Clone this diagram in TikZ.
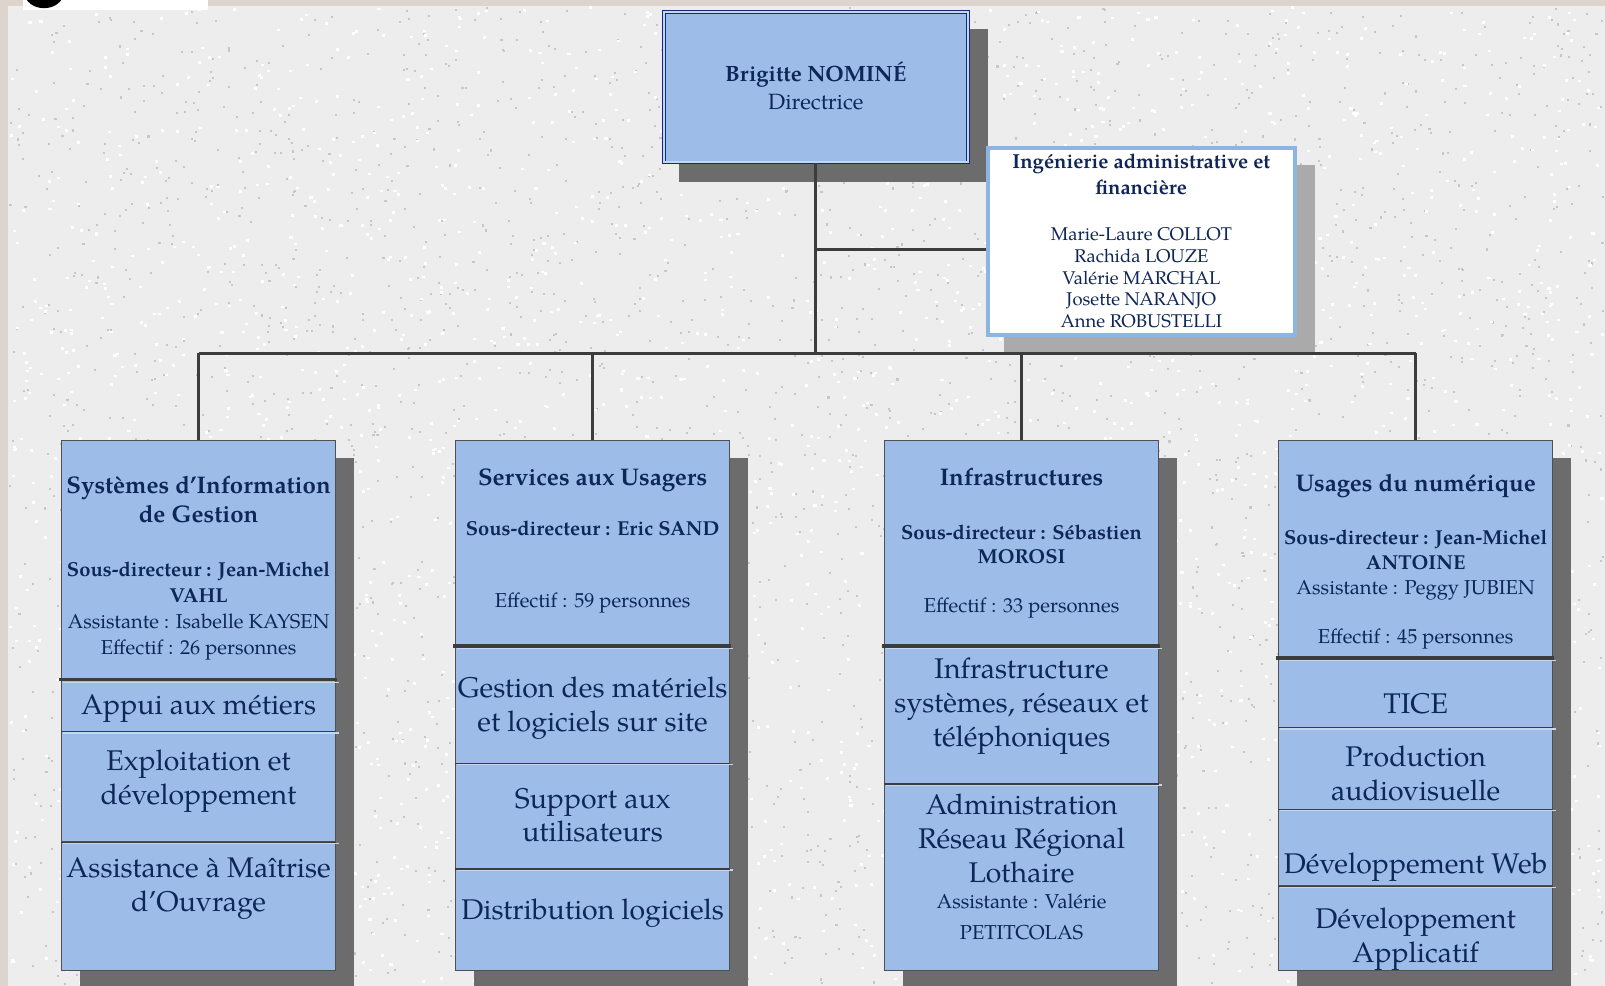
\documentclass[tikz,border=0pt]{standalone}
\usepackage{fontspec}
\setmainfont{texgyrepagella}[Extension=.otf, UprightFont=*-regular, BoldFont=*-bold, ItalicFont=*-italic, BoldItalicFont=*-bolditalic]
\definecolor{pagebeige}{RGB}{222,212,206}
\definecolor{granite}{RGB}{237,237,237}
\definecolor{speck}{RGB}{198,198,198}
\definecolor{boxblue}{RGB}{157,189,232}
\definecolor{navyt}{RGB}{14,38,88}
\definecolor{navyb}{RGB}{20,40,130}
\definecolor{linegray}{RGB}{60,60,60}
\definecolor{shadowgray}{RGB}{108,108,108}
\definecolor{lightshadow}{RGB}{170,170,170}
\definecolor{ingborder}{RGB}{142,180,228}
\definecolor{seclight}{RGB}{200,214,236}
\newcommand\ftitle{\fontsize{23.5}{28}\selectfont\bfseries}
\newcommand\fsub{\fontsize{19.7}{25}\selectfont\bfseries}
\newcommand\freg{\fontsize{19.7}{25}\selectfont}
\newcommand\fitem{\fontsize{27.8}{33}\selectfont}
\tikzset{
  sec/.style={draw=linegray!90, line width=0.9pt, fill=boxblue, minimum width=268pt, inner sep=0pt, anchor=north},
  txt/.style={text=navyt, align=center, inner sep=0pt},
  conn/.style={draw=linegray, line width=2.8pt},
  thicksep/.style={draw=linegray, line width=3.6pt},
  thinsep/.style={draw=linegray, line width=1.3pt},
  lightsep/.style={draw=seclight, line width=1.4pt},
  colshadow/.style={fill=shadowgray}
}
\begin{document}
\begin{tikzpicture}[x=1pt,y=-1pt]
\useasboundingbox (0,0) rectangle (1568,963);
% page background
\fill[pagebeige] (0,0) rectangle (1568,963);
\fill[granite] (8,6) rectangle (1568,963);
\pgfmathsetseed{17}
\foreach \i in {1,...,2800}{
  \fill[speck] (8+rnd*1558, 6+rnd*955) rectangle ++(2,2);
}
\foreach \i in {1,...,2500}{
  \fill[white] (8+rnd*1557, 6+rnd*954) rectangle ++(3,2.5);
}
% screenshot artefacts top-left
\fill[white] (22,0) rectangle (203,10);
\fill[black] (43,-7) ellipse (19pt and 15pt);

% director
\fill[shadowgray] (663,28) rectangle (965,178);
\node[draw=navyb, line width=0.9pt, double=boxblue!60!white, double distance=1.6pt, fill=boxblue,
      minimum width=297pt, minimum height=147pt, inner sep=0pt] (dir) at (797,85) {};
\node[txt, font=\fontsize{21.6}{27}\selectfont] (dirt) at (797,84) {\textbf{Brigitte NOMINÉ}\\Directrice};

% ingenierie
\fill[lightshadow] (981,161) rectangle (1285,347);
\node[draw=ingborder, line width=4pt, fill=white, minimum width=300pt, minimum height=182pt, inner sep=0pt] (ing) at (1115,236) {};
\node[txt, font=\fontsize{19.8}{25}\selectfont\bfseries] (ingt) at (1115,170.5) {Ingénierie administrative et\\financière};
\node[txt, font=\fontsize{18}{21.2}\selectfont] (ingn) at (1115,271.5) {Marie-Laure COLLOT\\Rachida LOUZE\\Valérie MARCHAL\\Josette NARANJO\\Anne ROBUSTELLI};

% column shadows
\fill[colshadow] (78,447) rectangle (346,966);
\fill[colshadow] (463,447) rectangle (731,966);
\fill[colshadow] (882,447) rectangle (1150,966);
\fill[colshadow] (1267,447) rectangle (1535,966);

% ---------- column 1
\node[sec, minimum height=233pt] (h1) at (194,430) {};
\node[sec, minimum height=51pt] (a1) at (194,663) {};
\node[sec, minimum height=108pt] (b1) at (194,714) {};
\node[sec, minimum height=126pt] (d1) at (194,822) {};
% ---------- column 2
\node[sec, minimum height=200pt] (h2) at (579,430) {};
\node[sec, minimum height=115pt] (a2) at (579,630) {};
\node[sec, minimum height=103pt] (b2) at (579,745) {};
\node[sec, minimum height=100pt] (d2) at (579,848) {};
% ---------- column 3
\node[sec, minimum height=200pt] (h3) at (998,430) {};
\node[sec, minimum height=135pt] (a3) at (998,630) {};
\node[sec, minimum height=183pt] (b3) at (998,765) {};
% ---------- column 4
\node[sec, minimum height=212pt] (h4) at (1383,430) {};
\node[sec, minimum height=68pt] (a4) at (1383,642) {};
\node[sec, minimum height=80pt] (b4) at (1383,710) {};
\node[sec, minimum height=75pt] (d4) at (1383,790) {};
\node[sec, minimum height=83pt] (e4) at (1383,865) {};

% separators
\draw[lightsep] (a1.north west) ++(2,3.5) -- ++(270,0);
\draw[thicksep] (h1.south west) ++(-2,0) -- ++(272,0);
\draw[lightsep] (b1.north west) ++(2,2) -- ++(270,0);
\draw[thinsep] (a1.south west) -- (a1.south east);
\draw[lightsep] (d1.north west) ++(2,2) -- ++(270,0);
\draw[thinsep] (b1.south west) -- (b1.south east);

\draw[lightsep] (a2.north west) ++(2,3.5) -- ++(270,0);
\draw[thicksep] (h2.south west) ++(-2,0) -- ++(272,0);
\draw[lightsep] (b2.north west) ++(2,2) -- ++(270,0);
\draw[thinsep] (a2.south west) -- (a2.south east);
\draw[lightsep] (d2.north west) ++(2,2) -- ++(270,0);
\draw[thinsep] (b2.south west) -- (b2.south east);

\draw[lightsep] (a3.north west) ++(2,3.5) -- ++(270,0);
\draw[thicksep] (h3.south west) ++(-2,0) -- ++(272,0);
\draw[lightsep] (b3.north west) ++(2,2) -- ++(270,0);
\draw[thinsep] (a3.south west) -- (a3.south east);

\draw[lightsep] (a4.north west) ++(2,3.5) -- ++(270,0);
\draw[thicksep] (h4.south west) ++(-2,0) -- ++(272,0);
\draw[lightsep] (b4.north west) ++(2,2) -- ++(270,0);
\draw[thinsep] (a4.south west) -- (a4.south east);
\draw[lightsep] (d4.north west) ++(2,2) -- ++(270,0);
\draw[thinsep] (b4.south west) -- (b4.south east);
\draw[lightsep] (e4.north west) ++(2,2) -- ++(270,0);
\draw[thinsep] (d4.south west) -- (d4.south east);

% connectors
\coordinate (jb) at (797,244);
\coordinate (j1) at (797,345);
\draw[conn] (dir.south) -- (j1);
\draw[conn] (jb) -- (jb -| ing.west);
\draw[conn] (h1.north |- j1) -- (h4.north |- j1);
\draw[conn] (h1.north |- j1) -- (h1.north);
\draw[conn] (h2.north |- j1) -- (h2.north);
\draw[conn] (h3.north |- j1) -- (h3.north);
\draw[conn] (h4.north |- j1) -- (h4.north);

% ---------- texts column 1
\node[txt, font=\ftitle] (t1a) at (194,488) {Systèmes d’Information\\de Gestion};
\node[txt, font=\fontsize{19.7}{26}\selectfont\bfseries] (t1b) at (194,569) {Sous-directeur : Jean-Michel\\VAHL};
\node[txt, font=\freg] (t1c) at (194,622.5) {Assistante : Isabelle KAYSEN\\Effectif : 26 personnes};
\node[txt, font=\fitem] (i1a) at (194,692) {Appui aux métiers};
\node[txt, font=\fitem] (i1b) at (194,763.5) {Exploitation et\\développement};
\node[txt, font=\fontsize{27.8}{34}\selectfont] (i1c) at (194,868) {Assistance à Maîtrise\\d’Ouvrage};

% ---------- texts column 2
\node[txt, font=\ftitle] (t2a) at (579,469) {Services aux Usagers};
\node[txt, font=\fsub] (t2b) at (579,516) {Sous-directeur : Eric SAND};
\node[txt, font=\freg] (t2c) at (579,589) {Effectif : 59 personnes};
\node[txt, font=\fitem] (i2a) at (579,691.5) {Gestion des matériels\\et logiciels sur site};
\node[txt, font=\fitem] (i2b) at (579,796.5) {Support aux\\utilisateurs};
\node[txt, font=\fitem] (i2c) at (579,892) {Distribution logiciels};

% ---------- texts column 3
\node[txt, font=\ftitle] (t3a) at (998,466) {Infrastructures};
\node[txt, font=\fontsize{19.7}{24}\selectfont\bfseries] (t3b) at (998,532) {Sous-directeur : Sébastien\\MOROSI};
\node[txt, font=\freg] (t3c) at (998,594) {Effectif : 33 personnes};
\node[txt, font=\fitem] (i3a) at (998,690) {Infrastructure\\systèmes, réseaux et\\téléphoniques};
\node[txt, font=\fitem] (i3b) at (998,819) {Administration\\Réseau Régional\\Lothaire};
\node[txt, font=\fontsize{19.7}{30}\selectfont] (i3c) at (998,896) {Assistante : Valérie\\PETITCOLAS};

% ---------- texts column 4
\node[txt, font=\ftitle] (t4a) at (1383,475) {Usages du numérique};
\node[txt, font=\fontsize{19.7}{24}\selectfont\bfseries] (t4b) at (1383,537) {Sous-directeur : Jean-Michel\\ANTOINE};
\node[txt, font=\freg] (t4c) at (1383,577) {Assistante : Peggy JUBIEN};
\node[txt, font=\freg] (t4d) at (1383,624) {Effectif : 45 personnes};
\node[txt, font=\fitem] (i4a) at (1383,687) {TICE};
\node[txt, font=\fitem] (i4b) at (1383,755.5) {Production\\audiovisuelle};
\node[txt, font=\fitem] (i4c) at (1383,847) {Développement Web};
\node[txt, font=\fitem] (i4d) at (1383,917.5) {Développement\\Applicatif};
\end{tikzpicture}
\end{document}
